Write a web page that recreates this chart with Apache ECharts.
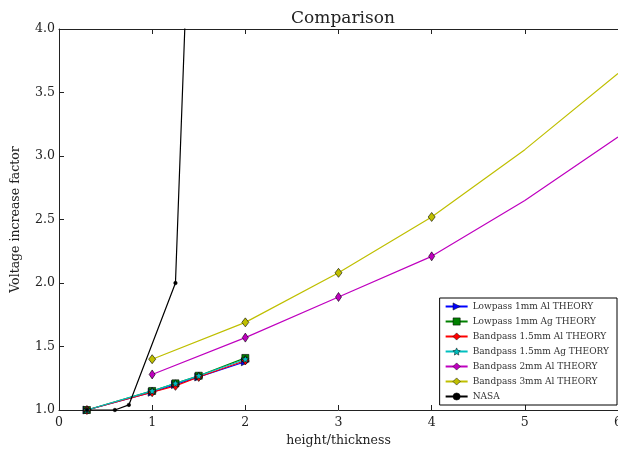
<!DOCTYPE html>
<html>
<head>
<meta charset="utf-8">
<script src="https://cdn.jsdelivr.net/npm/echarts@6/dist/echarts.min.js"></script>
<style>
  html, body { margin: 0; padding: 0; background: #fff; }
  #chart { width: 618px; height: 452px; }
</style>
</head>
<body>
<div id="chart"></div>
<script>
// values
var lowX = [0.3, 1, 1.25, 1.5, 2];
var lowpassAl1 = [1.0, 1.14, 1.20, 1.26, 1.38];
var lowpassAg1 = [1.0, 1.15, 1.21, 1.27, 1.41];
var bandpassAl15 = [1.0, 1.14, 1.19, 1.26, 1.39];
var bandpassAg15 = [1.0, 1.15, 1.21, 1.27, 1.40];
var bandX = [1, 2, 3, 4, 5, 6];
var bandpassAl2 = [1.28, 1.57, 1.89, 2.21, 2.65, 3.15];
var bandpassAl3 = [1.40, 1.69, 2.08, 2.52, 3.05, 3.65];
var markedPoints = 4; // markers only on the first four points of the bandpass curves
var nasaX = [0.3, 0.6, 0.75, 1.25, 1.5];
var nasaY = [1.0, 1.0, 1.04, 2.0, 7.0];
var xTicks = [0, 1, 2, 3, 4, 5, 6];
var yTicks = [1.0, 1.5, 2.0, 2.5, 3.0, 3.5, 4.0];

var font = 'DejaVu Serif';
var star = 'path://M0,-10 L2.9,-4 9.5,-3.1 4.7,1.5 5.9,8.1 0,5 -5.9,8.1 -4.7,1.5 -9.5,-3.1 -2.9,-4 Z';

function pairs(xs, ys, marked) {
  return xs.map(function (x, i) {
    var item = { value: [x, ys[i]] };
    if (marked != null && i >= marked) item.symbol = 'none';
    return item;
  });
}

function mkSeries(name, xs, ys, color, symbol, size, rotate, marked) {
  return {
    name: name,
    type: 'line',
    data: pairs(xs, ys, marked),
    symbol: symbol,
    symbolSize: size,
    symbolRotate: rotate || 0,
    showAllSymbol: true,
    lineStyle: { color: color, width: 1.2 },
    itemStyle: { color: color, borderColor: '#000', borderWidth: 0.6 },
    emphasis: { disabled: true },
    animation: false
  };
}

var chart = echarts.init(document.getElementById('chart'));

chart.setOption({
  backgroundColor: '#fff',
  title: {
    text: 'Comparison',
    left: 338, top: 5, textAlign: 'center',
    textStyle: { fontFamily: font, fontWeight: 'normal', fontSize: 17, color: '#222' }
  },
  grid: { left: 59, right: 0, top: 29, bottom: 42, outerBoundsMode: 'none', containLabel: false },
  legend: {
    orient: 'vertical',
    right: 1, bottom: 47,
    itemWidth: 22, itemHeight: 9, itemGap: 6,
    padding: [4, 8, 4, 5],
    backgroundColor: '#fff',
    borderColor: '#000', borderWidth: 1, borderRadius: 0,
    itemStyle: { borderWidth: 0.5, borderColor: '#000' },
    textStyle: { fontFamily: font, fontSize: 9, color: '#333' },
    data: ['Lowpass 1mm Al THEORY', 'Lowpass 1mm Ag THEORY', 'Bandpass 1.5mm Al THEORY',
      'Bandpass 1.5mm Ag THEORY', 'Bandpass 2mm Al THEORY', 'Bandpass 3mm Al THEORY', 'NASA']
  },
  xAxis: [{
    type: 'value', min: 0, max: 6, interval: 1,
    name: 'height/thickness', nameLocation: 'middle', nameGap: 23,
    nameTextStyle: { fontFamily: font, fontSize: 12.5, color: '#222' },
    axisLine: { lineStyle: { color: '#222', width: 1 } },
    axisTick: { inside: true, length: 5, lineStyle: { color: '#222' } },
    axisLabel: { fontFamily: font, fontSize: 12.5, color: '#222', margin: 6,
      customValues: xTicks, formatter: function (v) { return String(v); } },
    splitLine: { show: false }
  }, {
    type: 'value', min: 0, max: 6, interval: 1, position: 'top',
    axisLine: { show: true, lineStyle: { color: '#222', width: 1 } },
    axisTick: { inside: true, length: 5, lineStyle: { color: '#222' } },
    axisLabel: { show: false },
    splitLine: { show: false }
  }],
  yAxis: {
    type: 'value', min: 1, max: 4, interval: 0.5,
    name: 'Voltage increase factor', nameLocation: 'middle', nameGap: 37,
    nameTextStyle: { fontFamily: font, fontSize: 12.5, color: '#222' },
    axisLine: { show: true, lineStyle: { color: '#222', width: 1 } },
    axisTick: { inside: true, length: 5, lineStyle: { color: '#222' } },
    axisLabel: { fontFamily: font, fontSize: 12.5, color: '#222', margin: 4,
      formatter: function (v) { return yTicks.indexOf(v) >= 0 ? v.toFixed(1) : ''; } },
    splitLine: { show: false }
  },
  series: [
    mkSeries('Lowpass 1mm Al THEORY', lowX, lowpassAl1, '#0000ff', 'triangle', 8, -90),
    mkSeries('Lowpass 1mm Ag THEORY', lowX, lowpassAg1, '#008000', 'rect', 7),
    mkSeries('Bandpass 1.5mm Al THEORY', lowX, bandpassAl15, '#ff0000', 'diamond', [7, 9]),
    mkSeries('Bandpass 1.5mm Ag THEORY', lowX, bandpassAg15, '#00bfbf', star, 7),
    mkSeries('Bandpass 2mm Al THEORY', bandX, bandpassAl2, '#bf00bf', 'diamond', [6, 9], 0, markedPoints),
    mkSeries('Bandpass 3mm Al THEORY', bandX, bandpassAl3, '#bfbf00', 'diamond', [7, 9], 0, markedPoints),
    mkSeries('NASA', nasaX, nasaY, '#000000', 'circle', 3.5)
  ]
});
</script>
</body>
</html>
